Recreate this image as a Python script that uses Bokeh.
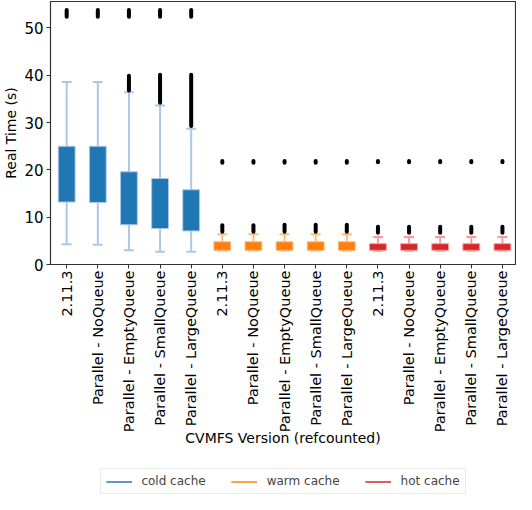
from bokeh.plotting import figure
from bokeh.layouts import column
from bokeh.models import (ColumnDataSource, FixedTicker, Legend, LegendItem, Range1d)
from bokeh.embed import file_html
from bokeh.resources import INLINE

# ---- data ----
variants = ["2.11.3", "Parallel - NoQueue", "Parallel - EmptyQueue",
            "Parallel - SmallQueue", "Parallel - LargeQueue"]
caches = ["cold cache", "warm cache", "hot cache"]

cold_q1 = [13.2, 13.1, 8.4, 7.6, 7.1]
cold_q3 = [25.0, 25.0, 19.6, 18.2, 15.8]
cold_lo = [4.3, 4.2, 3.0, 2.7, 2.7]
cold_hi = [38.6, 38.6, 36.4, 33.6, 28.7]
cold_out = [[(52.4, 53.8)], [(52.4, 53.8)], [(36.8, 39.9), (52.4, 53.8)],
            [(34.2, 40.1), (52.4, 53.8)], [(29.3, 40.1), (52.4, 53.8)]]

warm_q1 = [3.0, 3.0, 3.0, 3.0, 3.0]
warm_q3 = [4.8, 4.8, 4.8, 4.8, 4.8]
warm_lo = [2.9, 2.9, 2.9, 2.9, 2.9]
warm_hi = [6.4, 6.4, 6.4, 6.4, 6.4]
warm_out = [[(6.9, 8.3), (21.5, 21.9)], [(6.9, 8.3), (21.5, 21.9)],
            [(6.9, 8.4), (21.5, 21.9)], [(6.9, 8.4), (21.5, 21.9)],
            [(6.9, 8.4), (21.5, 21.9)]]

hot_q1 = [3.0, 3.0, 3.0, 3.0, 3.0]
hot_q3 = [4.4, 4.4, 4.4, 4.4, 4.4]
hot_lo = [2.9, 2.9, 2.9, 2.9, 2.9]
hot_hi = [5.8, 5.8, 5.8, 5.8, 5.8]
hot_out = [[(6.7, 8.0), (21.6, 21.9)], [(6.7, 8.0), (21.6, 21.9)],
           [(6.7, 8.0), (21.6, 21.9)], [(6.7, 8.0), (21.6, 21.9)],
           [(6.7, 8.0), (21.6, 21.9)]]

fill_colors = ["#1f77b4", "#ff7f0e", "#d62728"]
edge_colors = ["#aec7e8", "#ffbb78", "#ff9896"]

series = [
    (cold_q1, cold_q3, cold_lo, cold_hi, cold_out),
    (warm_q1, warm_q3, warm_lo, warm_hi, warm_out),
    (hot_q1, hot_q3, hot_lo, hot_hi, hot_out),
]

FONT = "DejaVu Sans"
NAN = float("nan")

p = figure(width=516, height=464, output_backend="svg",
           toolbar_location=None,
           x_range=Range1d(-0.52, 14.42), y_range=Range1d(0, 55.6),
           min_border_left=42, min_border_right=1, min_border_top=1,
           min_border_bottom=200)
p.xgrid.visible = False
p.ygrid.visible = False
p.outline_line_color = "#333333"
p.outline_line_width = 1.2

box_w = 0.54
cap_w = 0.32

for si, (q1, q3, lo, hi, outs) in enumerate(series):
    xs = [si * len(variants) + i for i in range(len(variants))]
    src = ColumnDataSource(dict(x=xs, q1=q1, q3=q3, lo=lo, hi=hi,
                                cl=[x - cap_w / 2 for x in xs],
                                cr=[x + cap_w / 2 for x in xs]))
    # whiskers
    p.segment(x0="x", y0="lo", x1="x", y1="q1", source=src,
              line_color=edge_colors[si], line_width=2)
    p.segment(x0="x", y0="q3", x1="x", y1="hi", source=src,
              line_color=edge_colors[si], line_width=2)
    # caps
    p.segment(x0="cl", y0="lo", x1="cr", y1="lo", source=src,
              line_color=edge_colors[si], line_width=2)
    p.segment(x0="cl", y0="hi", x1="cr", y1="hi", source=src,
              line_color=edge_colors[si], line_width=2)
    # boxes
    p.vbar(x="x", width=box_w, bottom="q1", top="q3", source=src,
           fill_color=fill_colors[si], line_color=edge_colors[si], line_width=1)
    # outlier clusters (dense stacks of black markers)
    ox, oy0, oy1 = [], [], []
    for x, bands in zip(xs, outs):
        for a, b in bands:
            ox.append(x)
            oy0.append(a)
            oy1.append(b)
    osrc = ColumnDataSource(dict(x=ox, y0=oy0, y1=oy1))
    p.segment(x0="x", y0="y0", x1="x", y1="y1", source=osrc,
              line_color="black", line_width=4, line_cap="round")

# axes
ticks = list(range(len(variants) * len(caches)))
p.xaxis.ticker = FixedTicker(ticks=ticks)
p.xaxis.major_label_overrides = {t: variants[t % len(variants)] for t in ticks}
p.xaxis.major_label_orientation = 1.5707963
p.xaxis.axis_label = "CVMFS Version (refcounted)"
p.yaxis.axis_label = "Real Time (s)"
p.yaxis.ticker = FixedTicker(ticks=[0, 10, 20, 30, 40, 50])

for ax in (p.xaxis, p.yaxis):
    ax.axis_label_text_font = FONT
    ax.axis_label_text_font_style = "normal"
    ax.axis_label_text_font_size = "14px"
    ax.axis_label_text_color = "black"
    ax.major_label_text_font = FONT
    ax.major_label_text_color = "black"
    ax.major_tick_in = 0
    ax.major_tick_out = 4
    ax.minor_tick_in = 0
    ax.minor_tick_out = 0
    ax.axis_line_color = "#333333"
    ax.major_tick_line_color = "#333333"
p.xaxis.major_label_text_font_size = "14.5px"
p.yaxis.major_label_text_font_size = "15px"
p.xaxis.axis_label_standoff = -5
p.yaxis.axis_label_standoff = 2
p.xaxis.major_label_standoff = 2
p.yaxis.major_label_standoff = 3

# legend strip below the chart
lf = figure(width=516, height=30, output_backend="svg", toolbar_location=None,
            x_range=Range1d(0, 1), y_range=Range1d(0, 1),
            min_border=0)
lf.axis.visible = False
lf.xgrid.visible = False
lf.ygrid.visible = False
lf.outline_line_color = None

items = []
for si, name in enumerate(caches):
    r = lf.line(x=[NAN], y=[NAN], line_color=fill_colors[si], line_width=1.5)
    items.append(LegendItem(label=name, renderers=[r]))

legend = Legend(items=items, orientation="horizontal", location="bottom_center",
                label_text_font=FONT, label_text_font_size="12px",
                glyph_width=26, glyph_height=13, label_height=13,
                label_standoff=10, spacing=25,
                padding=5, margin=0, border_line_color="#d4d4d4",
                border_line_width=1, background_fill_alpha=1)
lf.add_layout(legend)

layout = column(p, lf, spacing=0)
open("out.html", "w").write(file_html(layout, INLINE))
